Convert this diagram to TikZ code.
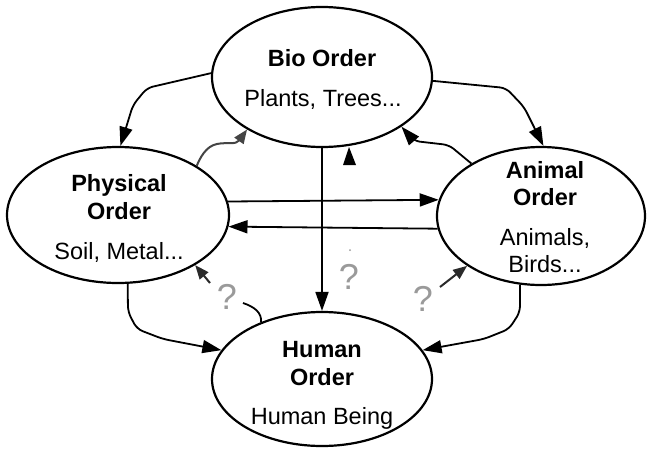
\documentclass[tikz,border=0pt]{standalone}
\usepackage{fontspec}
\setmainfont{Liberation Sans}
\usetikzlibrary{shapes.geometric,arrows.meta}
\definecolor{qgray}{HTML}{9A9A9A}
\definecolor{dgray}{HTML}{2A2A2A}
\definecolor{wgray}{HTML}{444444}
\tikzset{
  ell/.style={ellipse, draw, line width=2.2pt, inner sep=0pt},
  lab/.style={anchor=base, inner sep=0pt, font=\fontsize{23.5}{28}\selectfont},
  blab/.style={lab, font=\fontsize{23.5}{28}\selectfont\bfseries},
  qm/.style={inner sep=0pt, text=qgray, font=\fontsize{36}{36}\selectfont},
  conn/.style={line width=1.8pt, -{Triangle[length=19pt,width=13pt]}},
  small/.style={line width=2pt, dgray, -{Triangle[length=14pt,width=11pt]}}
}
\begin{document}
\begin{tikzpicture}[x=1pt,y=-1pt]
\useasboundingbox (0,0) rectangle (648,448);
% ellipses
\node[ell, minimum width=220pt, minimum height=140pt] (bio) at (322,77) {};
\node[ell, minimum width=222pt, minimum height=136pt] (phys) at (118,215) {};
\node[ell, minimum width=208pt, minimum height=138pt] (anim) at (541,216) {};
\node[ell, minimum width=220pt, minimum height=134pt] (hum) at (322,379) {};
% texts
\node[blab] (t1) at (322,66) {Bio Order};
\node[lab] (t2) at (323,106) {Plants, Trees...};
\node[blab] (t3) at (119,191) {Physical};
\node[blab] (t4) at (119,219) {Order};
\node[lab] (t5) at (119,259) {Soil, Metal...};
\node[blab] (t6) at (545,178) {Animal};
\node[blab] (t7) at (545,205) {Order};
\node[lab] (t8) at (545,245) {Animals,};
\node[lab] (t9) at (545,272) {Birds...};
\node[blab] (t10) at (322,357) {Human};
\node[blab] (t11) at (322,385) {Order};
\node[lab] (t12) at (322,424) {Human Being};
% question marks
\node[qm] (q1) at (227,297) {?};
\node[qm] (q2) at (349,277) {?};
\node[qm] (q3) at (423,299) {?};
\fill[qgray] (350,250) circle (1pt);
% coordinates
\coordinate (c1a) at (147,88);
\coordinate (c1b) at (133,105);
\coordinate (c2a) at (506,88);
\coordinate (c2b) at (524,107);
\coordinate (c3a) at (449,145);
\coordinate (c3b) at (414,141);
\coordinate (c4a) at (128,312);
\coordinate (c4b) at (137,329);
\coordinate (c4c) at (163,339);
\coordinate (c5a) at (520,312);
\coordinate (c5b) at (509,329);
\coordinate (c5c) at (484,339);
\coordinate (h1) at (243,303);
\coordinate (s1) at (210,283);
\coordinate (s2) at (440,287);
% connectors
\draw[conn, rounded corners=6pt] (bio.178) -- (c1a) -- (c1b) -- (phys.88);
\draw[conn, rounded corners=6pt] (bio.-2) -- (c2a) -- (c2b) -- (anim.88);
\draw[conn, rounded corners=6pt] (anim.143) -- (c3a) -- (c3b) -- (bio.-32);
\draw[conn, rounded corners=6pt] (phys.-82) -- (c4a) -- (c4b) -- (c4c) -- (hum.164);
\draw[conn, rounded corners=6pt] (anim.-107) -- (c5a) -- (c5b) -- (c5c) -- (hum.16);
\draw[conn] (bio.south) -- (hum.north);
\draw[conn] (phys.7.9) -- (anim.171);
\draw[conn] (anim.-173.3) -- (phys.-6.8);
% wavy grey arrow
\draw[small, wgray] (phys.32) .. controls (200,158) and (206,146) .. (217,144)
  .. controls (226,142) and (236,145) .. (bio.215);
% small arrows from question marks
\draw[small] (s1) -- (phys.-33);
\draw[small] (s2) -- (anim.-146);
% hook from human
\draw[line width=1.8pt] (hum.137) .. controls (262,313) and (255,307) .. (h1);
% isolated arrowhead
\fill (349,147) -- (356,165) -- (343,165) -- cycle;
\end{tikzpicture}
\end{document}
